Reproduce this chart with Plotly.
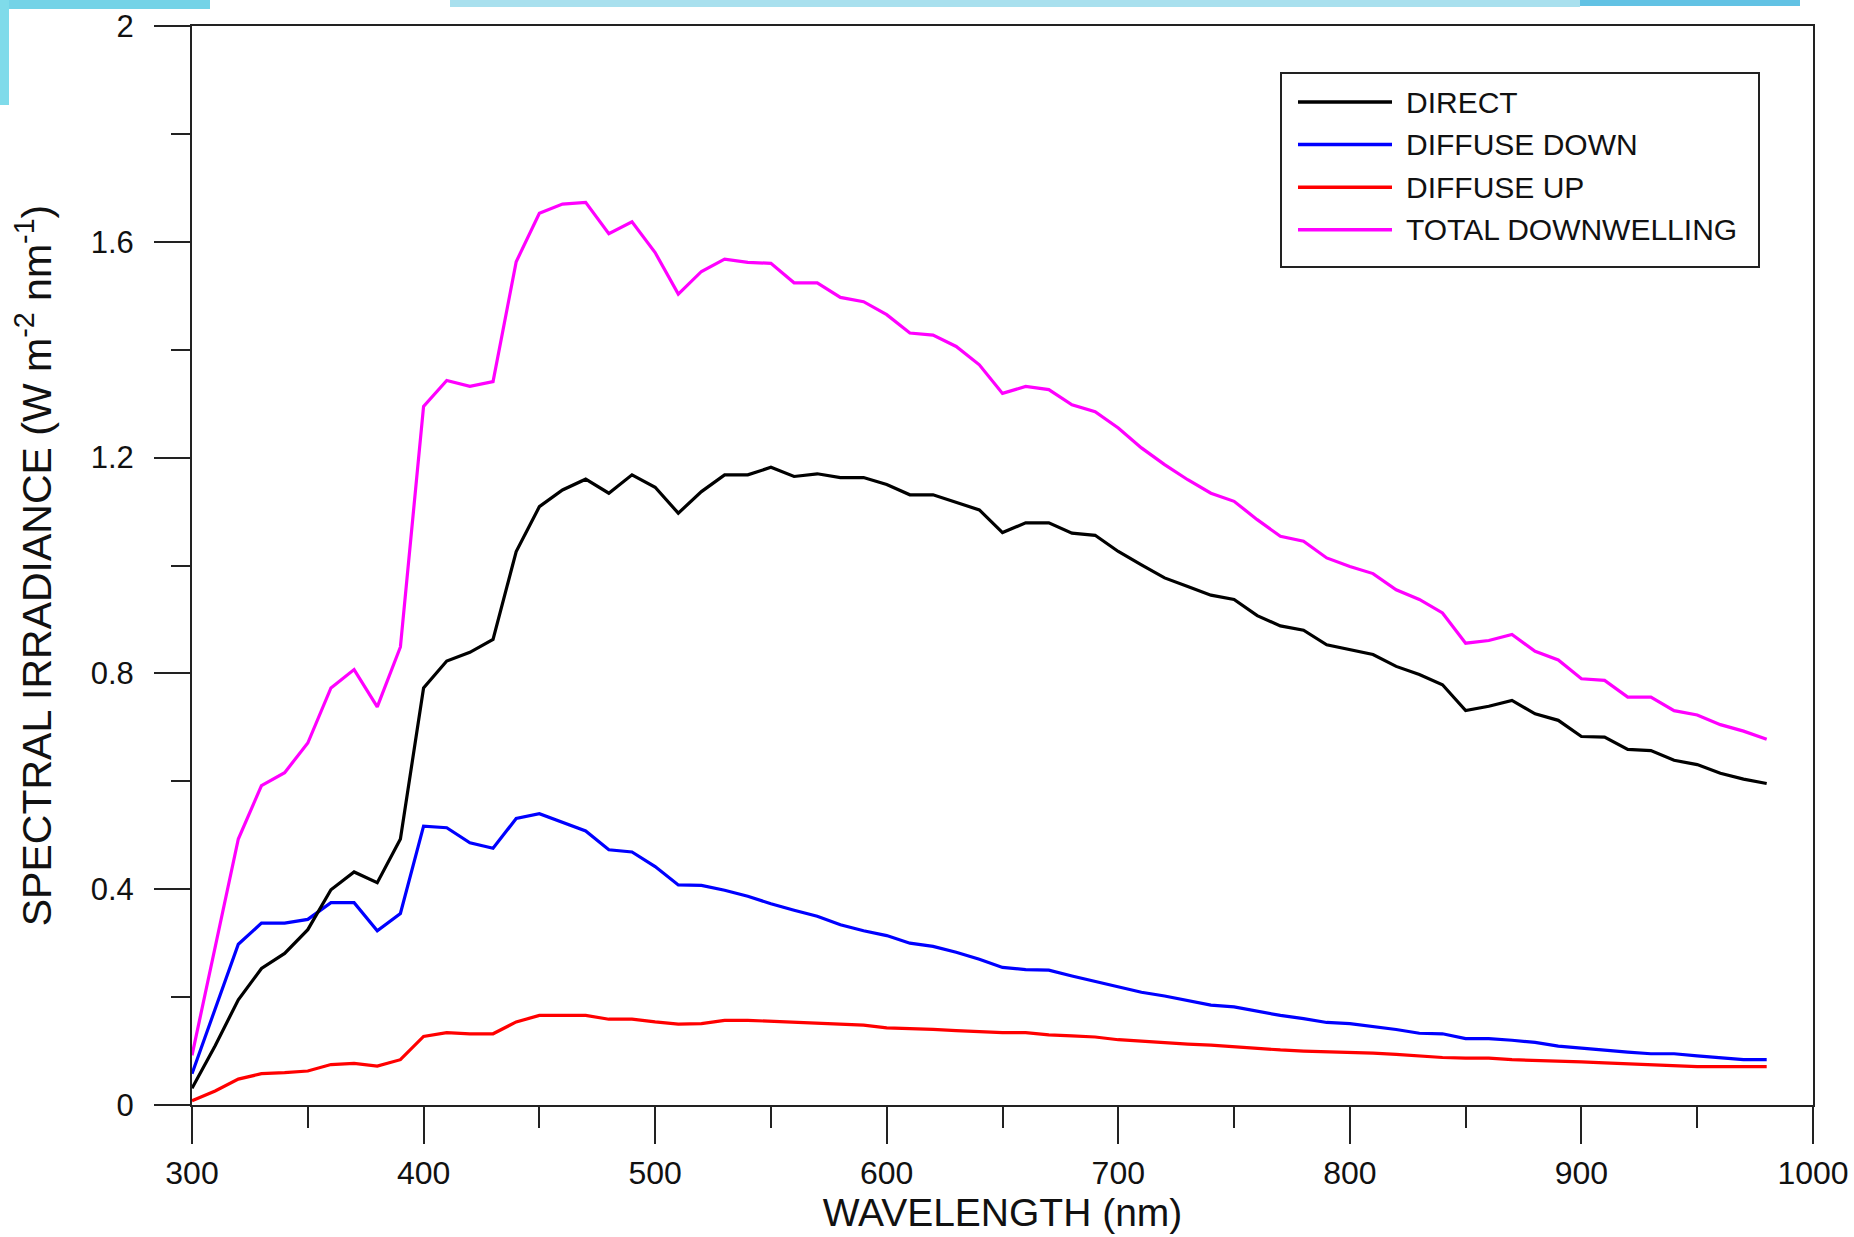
import plotly.graph_objects as go

# ---------------- data ----------------
wavelength = list(range(300, 990, 10))

direct = [0.031, 0.110, 0.195, 0.253, 0.281, 0.325, 0.399, 0.432, 0.412, 0.493,
          0.773, 0.823, 0.839, 0.863, 1.026, 1.109, 1.140, 1.160, 1.134, 1.168,
          1.145, 1.097, 1.137, 1.168, 1.168, 1.182, 1.165, 1.170, 1.163, 1.163,
          1.150, 1.131, 1.131, 1.117, 1.103, 1.061, 1.079, 1.079, 1.060, 1.056,
          1.026, 1.001, 0.977, 0.961, 0.945, 0.937, 0.907, 0.888, 0.880, 0.853,
          0.844, 0.835, 0.813, 0.798, 0.779, 0.731, 0.739, 0.750, 0.725, 0.713,
          0.683, 0.682, 0.659, 0.657, 0.639, 0.631, 0.615, 0.604, 0.596]

diffuse_down = [0.058, 0.180, 0.298, 0.337, 0.337, 0.344, 0.375, 0.375, 0.323, 0.355,
                0.517, 0.514, 0.486, 0.476, 0.531, 0.540, 0.524, 0.508, 0.473, 0.469,
                0.442, 0.408, 0.407, 0.398, 0.387, 0.373, 0.361, 0.350, 0.334, 0.323,
                0.314, 0.300, 0.294, 0.283, 0.270, 0.255, 0.251, 0.250, 0.239, 0.229,
                0.219, 0.209, 0.202, 0.194, 0.185, 0.182, 0.174, 0.166, 0.160, 0.153,
                0.151, 0.146, 0.140, 0.133, 0.132, 0.123, 0.123, 0.120, 0.116, 0.109,
                0.105, 0.101, 0.098, 0.095, 0.095, 0.091, 0.087, 0.084, 0.084]

diffuse_up = [0.008, 0.026, 0.048, 0.058, 0.060, 0.063, 0.075, 0.077, 0.072, 0.084,
              0.127, 0.134, 0.132, 0.132, 0.154, 0.166, 0.166, 0.166, 0.159, 0.159,
              0.154, 0.150, 0.151, 0.157, 0.157, 0.155, 0.153, 0.151, 0.150, 0.148,
              0.143, 0.142, 0.140, 0.138, 0.136, 0.134, 0.134, 0.130, 0.128, 0.126,
              0.121, 0.118, 0.115, 0.113, 0.111, 0.108, 0.104, 0.102, 0.100, 0.099,
              0.098, 0.096, 0.094, 0.091, 0.088, 0.087, 0.087, 0.084, 0.083, 0.081,
              0.080, 0.078, 0.076, 0.074, 0.072, 0.071, 0.071, 0.071, 0.071]

total_down = [0.092, 0.290, 0.493, 0.592, 0.616, 0.671, 0.773, 0.807, 0.738, 0.849,
              1.295, 1.343, 1.332, 1.341, 1.563, 1.653, 1.670, 1.673, 1.615, 1.637,
              1.580, 1.503, 1.545, 1.568, 1.562, 1.560, 1.524, 1.524, 1.497, 1.489,
              1.465, 1.431, 1.427, 1.406, 1.372, 1.319, 1.332, 1.326, 1.298, 1.285,
              1.255, 1.218, 1.187, 1.159, 1.134, 1.119, 1.085, 1.054, 1.045, 1.014,
              0.998, 0.985, 0.955, 0.937, 0.912, 0.856, 0.861, 0.872, 0.841, 0.825,
              0.790, 0.787, 0.756, 0.756, 0.731, 0.723, 0.705, 0.693, 0.678]

series_names = ["DIRECT", "DIFFUSE DOWN", "DIFFUSE UP", "TOTAL DOWNWELLING"]
series_values = [direct, diffuse_down, diffuse_up, total_down]
series_colors = ["#000000", "#0000ff", "#ff0000", "#ff00ff"]

x_ticks = [300, 400, 500, 600, 700, 800, 900, 1000]
y_ticks = [0, 0.4, 0.8, 1.2, 1.6, 2]
y_tick_labels = ["0", "0.4", "0.8", "1.2", "1.6", "2"]

# ---------------- figure geometry ----------------
W, H = 1854, 1237
ML, MR, MT, MB = 192, 41, 26, 132
PW, PH = W - ML - MR, H - MT - MB
FONT = "Arial, 'Liberation Sans', sans-serif"


def px(xp):
    return (xp - ML) / PW


def py(yp):
    return (H - MB - yp) / PH


fig = go.Figure()

draw_order = [2, 1, 0, 3]
for i in draw_order:
    fig.add_trace(go.Scatter(
        x=wavelength, y=series_values[i], name=series_names[i], mode="lines",
        line=dict(color=series_colors[i], width=3.2), showlegend=False))

shapes = []
annotations = []

# background decoration (slide screenshot band)
deco = [
    (0, 0, 210, 9, "#74d3e7"),
    (0, 0, 9, 105, "#7fdbea"),
    (450, 0, 1580, 7, "#a9e0ee"),
    (1580, 0, 1800, 6, "#62c2e4"),
]
for x0, y0, x1, y1, c in deco:
    shapes.append(dict(type="rect", xref="paper", yref="paper",
                       x0=px(x0), x1=px(x1), y0=py(y1), y1=py(y0),
                       fillcolor=c, line=dict(width=0), layer="below"))

# custom legend
LX0, LY0, LX1, LY1 = 1281, 73, 1759, 267
shapes.append(dict(type="rect", xref="paper", yref="paper",
                   x0=px(LX0), x1=px(LX1), y0=py(LY1), y1=py(LY0),
                   fillcolor="white", line=dict(color="#222", width=2)))
row0, row_gap = 102, 42.6
for k, name in enumerate(series_names):
    yy = row0 + k * row_gap
    shapes.append(dict(type="line", xref="paper", yref="paper",
                       x0=px(1298), x1=px(1392), y0=py(yy), y1=py(yy),
                       line=dict(color=series_colors[k], width=3.5)))
    annotations.append(dict(text=name, xref="paper", yref="paper",
                            x=px(1404), y=py(yy), xanchor="left", yanchor="middle",
                            showarrow=False,
                            font=dict(family=FONT, size=30, color="#111")))

fig.update_layout(
    width=W, height=H,
    margin=dict(l=ML, r=MR, t=MT, b=MB, autoexpand=False),
    paper_bgcolor="white", plot_bgcolor="white",
    font=dict(family=FONT, color="#111"),
    shapes=shapes, annotations=annotations,
    showlegend=False,
)

fig.update_xaxes(
    range=[300, 1000], tickvals=x_ticks,
    showgrid=False, zeroline=False,
    showline=True, linecolor="#222", linewidth=2, mirror=True,
    ticks="outside", ticklen=37, tickwidth=1.5, tickcolor="#222",
    minor=dict(dtick=50, ticks="outside", ticklen=21, tickwidth=1.5,
               tickcolor="#222", showgrid=False),
    tickfont=dict(family=FONT, size=32, color="#111"),
    ticklabelstandoff=2,
    title=dict(text="WAVELENGTH (nm)", font=dict(family=FONT, size=39, color="#111"),
               standoff=2),
    automargin=False,
)
fig.update_yaxes(
    range=[0, 2], tickvals=y_ticks, ticktext=y_tick_labels,
    showgrid=False, zeroline=False,
    showline=True, linecolor="#222", linewidth=2, mirror=True,
    ticks="outside", ticklen=36, tickwidth=1.5, tickcolor="#222",
    minor=dict(dtick=0.2, ticks="outside", ticklen=19, tickwidth=1.5,
               tickcolor="#222", showgrid=False),
    tickfont=dict(family=FONT, size=31, color="#111"),
    ticklabelstandoff=14,
    title=dict(text="SPECTRAL IRRADIANCE (W m<sup>-2</sup> nm<sup>-1</sup>)",
               font=dict(family=FONT, size=41, color="#111"), standoff=26),
    automargin=False,
)

fig.write_html("out.html", config={"displayModeBar": False},
               post_script="document.body.style.margin='0';")
